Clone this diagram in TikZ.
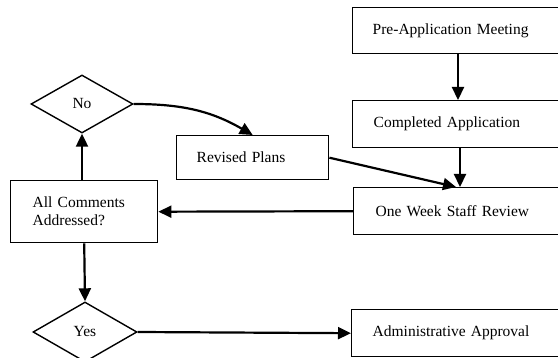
\documentclass[tikz,border=0pt]{standalone}
\usepackage{fontspec}
\setmainfont{Liberation Serif}
\usetikzlibrary{shapes.geometric,arrows.meta}
\begin{document}
\begin{tikzpicture}[x=1pt,y=-1pt,
  every node/.style={font=\fontsize{15.5}{18}\selectfont},
  stepbox/.style={draw,line width=1.4pt,rectangle,align=left,inner ysep=0pt,anchor=north west},
  choice/.style={draw,line width=1.4pt,diamond,inner sep=0pt},
  flow/.style={line width=2.2pt,-{Triangle[length=13pt,width=12pt]}}]
\useasboundingbox (0,0) rectangle (558,358);
\clip (0,0) rectangle (558,358);
\node[stepbox,inner xsep=20pt,text width=180pt,minimum height=46pt] (pre) at (352,7) {Pre-Application Meeting};
\node[stepbox,inner xsep=21pt,text width=178pt,minimum height=47pt] (comp) at (352,100) {Completed Application};
\node[stepbox,inner xsep=22pt,text width=176pt,minimum height=47pt] (week) at (353,187) {One Week Staff Review};
\node[stepbox,inner xsep=21pt,text width=179pt,minimum height=47pt] (admin) at (351,309) {Administrative Approval};
\node[stepbox,inner xsep=20pt,text width=112pt,minimum height=44pt] (rev) at (176,135) {Revised Plans};
\node[stepbox,inner xsep=22pt,text width=103pt,minimum height=62pt] (all) at (10,180) {All Comments\\Addressed?};
\node[choice,minimum width=102pt,minimum height=58pt] (no) at (82,104) {No};
\node[choice,minimum width=104pt,minimum height=60pt] (yes) at (85,332) {Yes};
\draw[flow] (pre.south -| 458,0) -- (comp.north -| 458,0);
\draw[flow] (comp.south -| 460,0) -- (week.north -| 460,0);
\draw[flow] (rev.east) -- ([xshift=-4pt]week.north -| 460,0);
\draw[flow] (week.west) -- (all.east);
\draw[flow] (all.north -| no.south) -- (no.south);
\draw[flow] (no.east) to[out=0,in=150] (rev.north);
\draw[flow] (all.south) -- (yes.north);
\draw[flow] (yes.east) -- (admin.west);
\end{tikzpicture}
\end{document}
